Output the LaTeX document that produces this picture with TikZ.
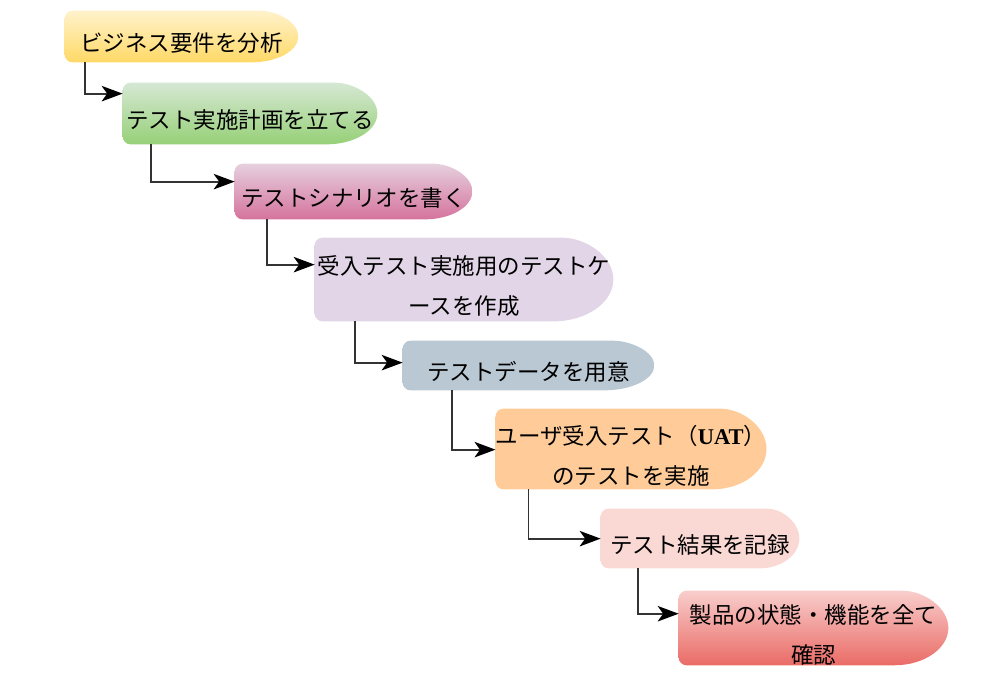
\documentclass[tikz,border=0pt]{standalone}
\usepackage{fontspec}
\newfontfamily\jpfont{Noto Sans CJK JP}
\newfontfamily\latinserif{Liberation Serif}
\usepackage{tikz}
\usetikzlibrary{arrows.meta,calc,positioning,backgrounds}
\usepackage{xcolor}
\definecolor{yellowtop}{HTML}{FFF2CC}
\definecolor{yellowbot}{HTML}{FFD966}
\definecolor{greentop}{HTML}{D5E8D4}
\definecolor{greenbot}{HTML}{97D077}
\definecolor{pinktop}{HTML}{E6D0DE}
\definecolor{pinkbot}{HTML}{D5739D}
\definecolor{lavender}{HTML}{E1D5E7}
\definecolor{bluegray}{HTML}{BAC8D3}
\definecolor{peach}{HTML}{FFCC99}
\definecolor{rose}{HTML}{FAD9D5}
\definecolor{redtop}{HTML}{F8CECC}
\definecolor{redbot}{HTML}{EA6B66}

\begin{document}
\begin{tikzpicture}[x=0.2mm,y=-0.2mm,
  stepbox/.style 2 args={minimum width=#1*0.2mm, minimum height=#2*0.2mm,
    inner sep=0pt, align=center, text height=18pt,
    font=\jpfont\fontsize{12.8}{22.7}\selectfont},
  twolines/.style={text height=41pt},
  flow/.style={draw=black!80, line width=0.35mm,
    -{Stealth[length=4.2mm,width=3.1mm,inset=1.1mm,black]}}]
  \useasboundingbox (0,0) rectangle (1000,677);
  % Steps
  \node[stepbox={233}{51}] (b1) at (181.5,36.5) {ビジネス要件を分析};
  \node[stepbox={254}{61}] (b2) at (250,113.5) {テスト実施計画を立てる};
  \node[stepbox={237}{55}] (b3) at (353.5,191.5) {テストシナリオを書く};
  \node[stepbox={298}{83},twolines] (b4) at (464,279.5) {受入テスト実施用のテストケ\\ースを作成};
  \node[stepbox={251}{49}] (b5) at (528.5,365.5) {テストデータを用意};
  \node[stepbox={270}{80},twolines] (b6) at (631,449) {ユーザ受入テスト（{\latinserif\bfseries UAT}）\\のテストを実施};
  \node[stepbox={198}{59}] (b7) at (700,538.5) {テスト結果を記録};
  \node[stepbox={269}{70},twolines] (b8) at (813.5,628) {製品の状態・機能を全て\\確認};
  % Box outlines behind the text
  \begin{scope}[on background layer]
    \foreach \n/\ct/\cb in {b1/yellowtop/yellowbot, b2/greentop/greenbot,
        b3/pinktop/pinkbot, b4/lavender/lavender, b5/bluegray/bluegray,
        b6/peach/peach, b7/rose/rose, b8/redtop/redbot}{
      \shade[top color=\ct, bottom color=\cb]
        (\n.west) [rounded corners=4.5pt] -- (\n.north west)
        -- ($(\n.north east)!0.2!(\n.north west)$) [sharp corners]
        .. controls ($(\n.north east)!0.09!(\n.north west)$) and ($(\n.east)!0.55!(\n.north east)$) .. (\n.east)
        .. controls ($(\n.east)!0.55!(\n.south east)$) and ($(\n.south east)!0.09!(\n.south west)$) .. ($(\n.south east)!0.2!(\n.south west)$)
        [rounded corners=4.5pt] -- (\n.south west) -- cycle;
    }
  \end{scope}
  % Connectors
  \foreach \a/\b/\dx/\dy in {b1/b2/20/11, b2/b3/28/18, b3/b4/32/27,
      b4/b5/40/22, b5/b6/49/41, b6/b7/33/30, b7/b8/37/23}{
    \draw[flow] ($(\a.south west)+(\dx,0)$) |- ($(\b.north west)+(0,\dy)$);
  }
\end{tikzpicture}
\end{document}
